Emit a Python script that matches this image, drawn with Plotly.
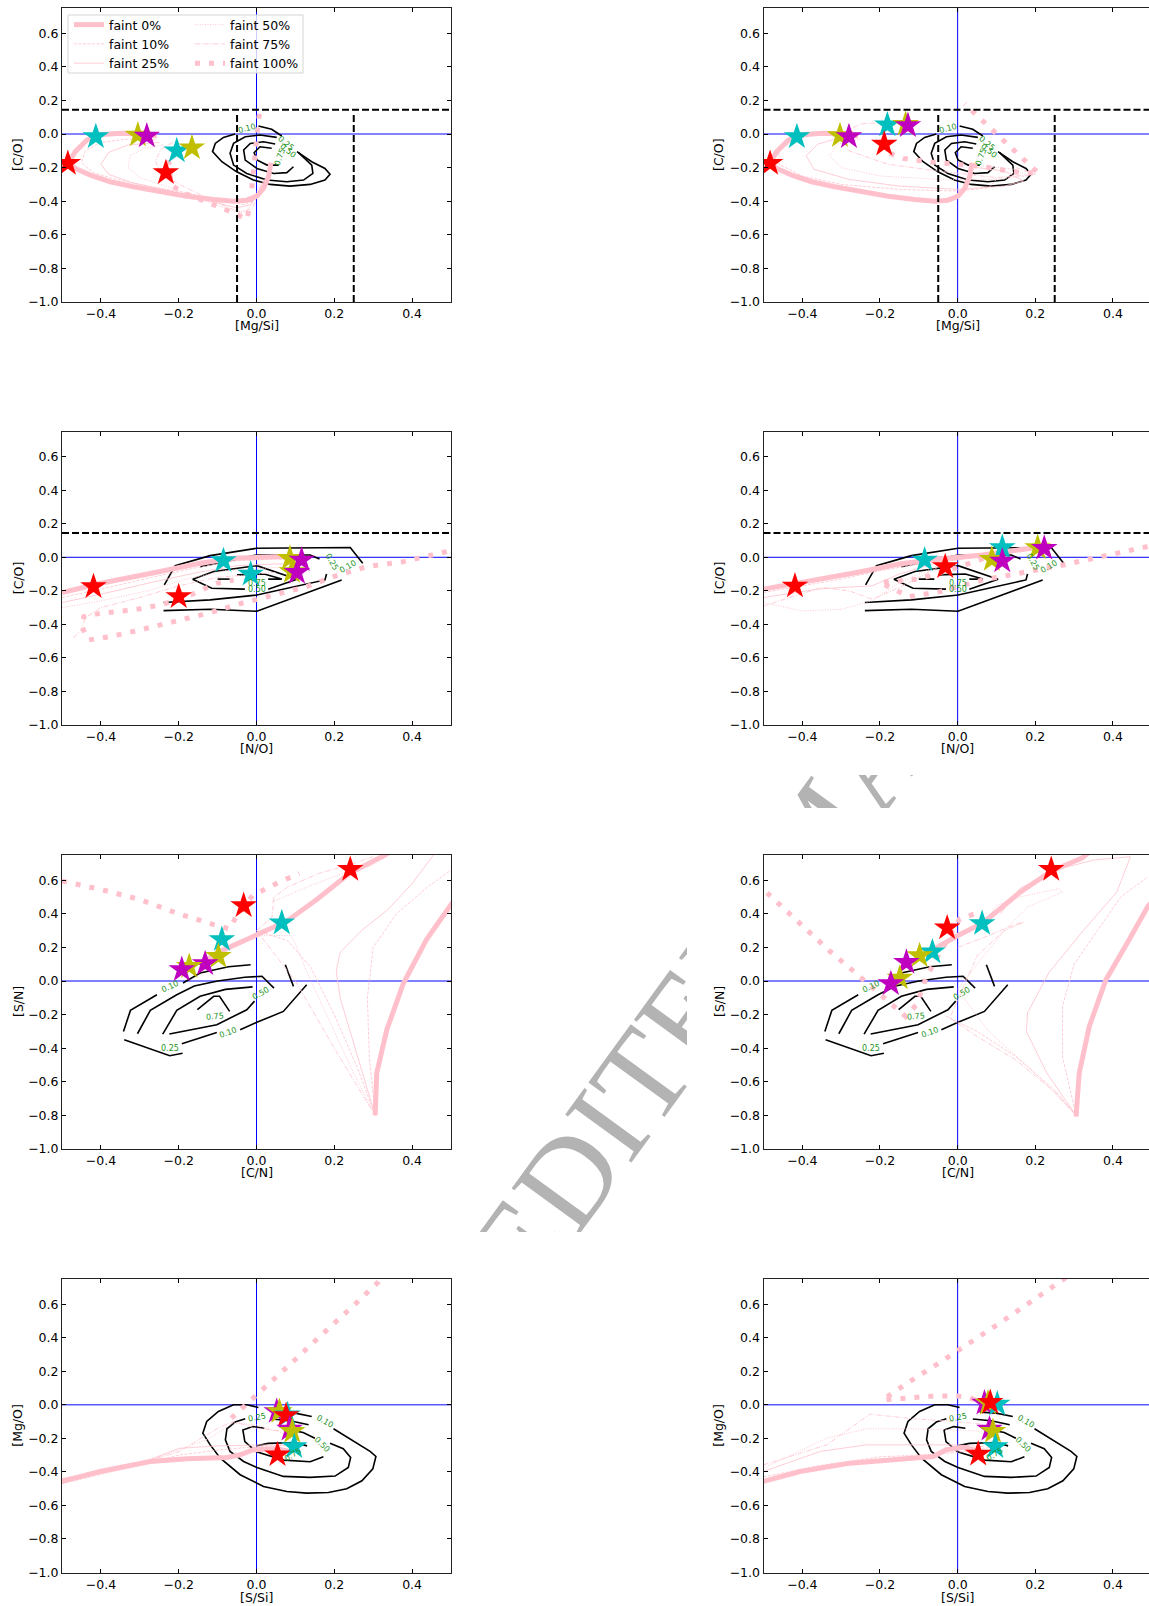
import plotly.graph_objects as go

W, H = 1149, 1606

# ---------------- axis ticks / titles ----------------
X_TICKS = [-0.4, -0.2, 0.0, 0.2, 0.4]
Y_TICKS = [-1.0, -0.8, -0.6, -0.4, -0.2, 0.0, 0.2, 0.4, 0.6]
X_TITLES = ["[Mg/Si]", "[N/O]", "[C/N]", "[S/Si]"]
Y_TITLES = ["[C/O]", "[C/O]", "[S/N]", "[Mg/O]"]
FAINT_LABELS = ["faint 0%", "faint 10%", "faint 25%", "faint 50%", "faint 75%", "faint 100%"]

# reference limits (dashed black lines)
CO_LIMIT = 0.145
MGSI_LIMITS = [-0.05, 0.25]
MGSI_LIMIT_TOP = 0.115

N = (None, None)

# ---------------- panel 1 : [Mg/Si] vs [C/O] ----------------
p1_f0 = [(-0.256, -0.012), (-0.299, 0.0), (-0.35, 0.004), (-0.402, -0.004), (-0.436, -0.036), (-0.466, -0.105),
         (-0.483, -0.171), (-0.466, -0.205), (-0.427, -0.245), (-0.376, -0.284), (-0.316, -0.314), (-0.247, -0.344),
         (-0.179, -0.370), (-0.11, -0.39), (-0.059, -0.40), (-0.025, -0.394), (0.001, -0.370), (0.018, -0.324),
         (0.031, -0.254), (0.037, -0.171)]
p1_f10 = [(-0.26, -0.035), (-0.33, -0.03), (-0.40, -0.05), (-0.44, -0.10), (-0.45, -0.17), (-0.42, -0.23),
          (-0.36, -0.27), (-0.28, -0.31), (-0.18, -0.35), (-0.09, -0.40), (-0.03, -0.42), (0.0, -0.38),
          (0.02, -0.31), (0.03, -0.24)]
p1_f25 = [(-0.25, -0.05), (-0.33, -0.065), (-0.38, -0.11), (-0.40, -0.18), (-0.38, -0.24), (-0.32, -0.29),
          (-0.22, -0.34), (-0.12, -0.40), (-0.05, -0.44), (-0.015, -0.42), (0.005, -0.35), (0.02, -0.27)]
p1_f50 = [(-0.24, -0.065), (-0.29, -0.085), (-0.325, -0.13), (-0.33, -0.20), (-0.30, -0.26), (-0.22, -0.32),
          (-0.13, -0.40), (-0.06, -0.46), (-0.025, -0.46), (-0.005, -0.38), (0.01, -0.29)]
p1_f75 = [(-0.215, -0.05), (-0.245, -0.09), (-0.26, -0.16), (-0.245, -0.24), (-0.19, -0.31), (-0.11, -0.40),
          (-0.04, -0.47), (-0.01, -0.44), (0.005, -0.35), (0.015, -0.28)]
p1_f100 = [(-0.226, -0.155), (-0.219, -0.304), (-0.188, -0.35), (-0.136, -0.394), (-0.093, -0.437),
           (-0.052, -0.477), (-0.025, -0.509), (-0.016, -0.414), (-0.01, -0.254), (-0.003, -0.076),
           (0.005, 0.083), (0.012, 0.173)]
p1_star_x = [-0.413, -0.305, -0.282, -0.485, -0.205, -0.166, -0.233]
p1_star_y = [-0.016, -0.006, -0.012, -0.175, -0.10, -0.082, -0.23]
p1_star_c = ["c", "y", "m", "r", "c", "y", "r"]

# ---------------- panel 2 ----------------
p2_f0 = p1_f0
p2_f10 = [(-0.35, 0.0), (-0.42, -0.03), (-0.46, -0.10), (-0.46, -0.18), (-0.40, -0.25), (-0.30, -0.30),
          (-0.15, -0.33), (0.0, -0.34), (0.08, -0.32), (0.10, -0.27)]
p2_f25 = [(-0.30, -0.02), (-0.36, -0.06), (-0.39, -0.13), (-0.37, -0.21), (-0.28, -0.27), (-0.15, -0.31),
          (0.0, -0.33), (0.12, -0.31), (0.17, -0.28), (0.12, -0.22), (0.05, -0.20)]
p2_f50 = [(-0.25, -0.03), (-0.31, -0.06), (-0.33, -0.13), (-0.30, -0.20), (-0.20, -0.25), (-0.05, -0.27),
          (0.10, -0.27), (0.18, -0.25), (0.15, -0.21), (0.06, -0.19)]
p2_f75 = [(-0.12, 0.08), (-0.25, 0.06), (-0.30, 0.0), (-0.28, -0.10), (-0.18, -0.18), (-0.05, -0.22),
          (0.10, -0.26), (0.20, -0.24), (0.15, -0.20)]
p2_f100 = [(-0.175, -0.115), (-0.14, -0.145), (-0.076, -0.165), (-0.003, -0.179), (0.069, -0.195),
           (0.142, -0.225), (0.209, -0.235), (0.181, -0.175), (0.127, -0.06), (0.072, 0.06), (0.018, 0.179)]
p2_star_x = [-0.414, -0.303, -0.28, -0.483, -0.181, -0.134, -0.128, -0.189]
p2_star_y = [-0.016, -0.01, -0.016, -0.175, 0.054, 0.058, 0.05, -0.06]
p2_star_c = ["c", "y", "m", "r", "c", "y", "m", "r"]

# ---------------- panel 3 : [N/O] vs [C/O] ----------------
p3_f0 = [(-0.5, -0.21), (-0.40, -0.155), (-0.27, -0.095), (-0.145, -0.036), (-0.06, -0.006), (0.0, 0.002),
         (0.07, 0.004), (0.10, 0.0)]
p3_f10 = [(-0.5, -0.24), (-0.40, -0.19), (-0.27, -0.12), (-0.15, -0.06), (-0.05, -0.02), (0.05, -0.01), (0.12, -0.02)]
p3_f25 = [(-0.5, -0.27), (-0.40, -0.22), (-0.27, -0.15), (-0.15, -0.09), (-0.05, -0.05), (0.05, -0.04), (0.12, -0.04)]
p3_f50 = [(-0.5, -0.30), (-0.40, -0.26), (-0.28, -0.20), (-0.18, -0.13), (-0.08, -0.08), (0.05, -0.06), (0.12, -0.06)]
p3_f75 = [(-0.47, -0.48), (-0.45, -0.43), (-0.44, -0.36), (-0.40, -0.30), (-0.30, -0.24), (-0.20, -0.17),
          (-0.10, -0.12), (0.05, -0.09)]
p3_f100 = [(0.489, 0.034), (0.378, -0.026), (0.283, -0.056), (0.198, -0.115), (0.129, -0.175), (0.057, -0.215),
           (-0.038, -0.274), (-0.119, -0.33), (-0.192, -0.374), (-0.299, -0.433), (-0.376, -0.473),
           (-0.432, -0.493), (-0.449, -0.414), (-0.444, -0.354), (-0.402, -0.334), (-0.316, -0.314),
           (-0.247, -0.284), (-0.179, -0.235), (-0.102, -0.155), (-0.059, -0.135)]
p3_star_x = [-0.419, -0.2, -0.085, -0.015, 0.086, 0.116, 0.091, 0.104]
p3_star_y = [-0.175, -0.235, -0.02, -0.10, -0.006, -0.016, -0.085, -0.09]
p3_star_c = ["r", "r", "c", "c", "y", "m", "y", "m"]

# ---------------- panel 4 ----------------
p4_f0 = [(-0.5, -0.19), (-0.40, -0.15), (-0.27, -0.095), (-0.15, -0.04), (-0.05, -0.01), (0.05, 0.01),
         (0.12, 0.03), (0.21, 0.06)]
p4_f10 = [(-0.5, -0.21), (-0.40, -0.17), (-0.30, -0.13), (-0.20, -0.08), (-0.10, -0.04), (0.0, -0.01), (0.1, 0.01)]
p4_f25 = [(-0.5, -0.24), (-0.42, -0.21), (-0.36, -0.19), (-0.30, -0.18), (-0.22, -0.17), (-0.15, -0.10),
          (-0.05, -0.03), (0.05, 0.0)]
p4_f50 = [(-0.5, -0.27), (-0.40, -0.32), (-0.30, -0.31), (-0.22, -0.26), (-0.15, -0.15), (-0.05, -0.05)]
p4_f75 = [(-0.5, -0.29), (-0.42, -0.23), (-0.35, -0.18), (-0.28, -0.20), (-0.22, -0.25), (-0.15, -0.18),
          (-0.05, -0.06)]
p4_f100 = [(0.489, 0.064), (0.373, 0.004), (0.271, -0.046), (0.159, -0.095), (0.065, -0.135), (-0.046, -0.205),
           (-0.125, -0.235), (-0.20, -0.15), (-0.10, -0.13), (0.0, -0.06), (0.10, 0.02), (0.20, 0.06)]
p4_star_x = [-0.419, -0.085, -0.032, 0.115, 0.088, 0.115, 0.206, 0.223]
p4_star_y = [-0.171, -0.016, -0.056, 0.058, -0.012, -0.022, 0.058, 0.054]
p4_star_c = ["r", "c", "r", "c", "y", "m", "y", "m"]

# ---------------- panel 5 : [C/N] vs [S/N] ----------------
p5_f0 = [(0.305, -0.80), (0.309, -0.549), (0.335, -0.29), (0.378, -0.012), (0.437, 0.247), (0.5, 0.465),
         (0.52, 0.52), N, (0.345, 0.77), (0.326, 0.744), (0.241, 0.644), (0.155, 0.485), (0.078, 0.356),
         (0.001, 0.276), (-0.102, 0.167), (-0.13, 0.12)]
p5_f10 = [(0.0, 0.30), (0.08, 0.24), (0.14, 0.08), (0.20, -0.20), (0.26, -0.52), (0.305, -0.80), (0.29, -0.45),
          (0.285, -0.10), (0.30, 0.20), (0.36, 0.40), (0.44, 0.56), (0.50, 0.66)]
p5_f25 = [(0.305, -0.80), (0.26, -0.45), (0.215, -0.10), (0.205, 0.06), (0.215, 0.17), (0.27, 0.30),
          (0.34, 0.43), (0.40, 0.58), (0.455, 0.75)]
p5_f50 = [(0.0, 0.27), (0.09, 0.27), (0.10, 0.22), (0.13, 0.05), (0.19, -0.25), (0.25, -0.55), (0.305, -0.80),
          N, (0.04, 0.47), (0.12, 0.55), (0.22, 0.64), (0.30, 0.69), (0.32, 0.74)]
p5_f75 = [(0.0, 0.30), (0.04, 0.38), (0.045, 0.50), (0.08, 0.56), (0.16, 0.64), (0.25, 0.70), (0.30, 0.74),
          N, (0.0, 0.30), (0.10, 0.0), (0.20, -0.40), (0.305, -0.80)]
p5_f100 = [(-0.5, 0.595), (-0.40, 0.545), (-0.30, 0.485), (-0.20, 0.40), (-0.11, 0.336), (-0.07, 0.31),
           (-0.055, 0.37), (-0.01, 0.51), (0.06, 0.59), (0.11, 0.64)]
p5_star_x = [0.241, -0.033, 0.065, -0.089, -0.098, -0.132, -0.173, -0.192]
p5_star_y = [0.664, 0.449, 0.346, 0.247, 0.147, 0.103, 0.087, 0.068]
p5_star_c = ["r", "r", "c", "c", "y", "m", "y", "m"]

# ---------------- panel 6 ----------------
p6_f0 = [(0.305, -0.807), (0.313, -0.549), (0.339, -0.27), (0.382, 0.008), (0.442, 0.247), (0.49, 0.445),
         (0.52, 0.52), N, (0.34, 0.77), (0.322, 0.734), (0.241, 0.654), (0.159, 0.525), (0.065, 0.346),
         (-0.003, 0.266), (-0.063, 0.187)]
p6_f10 = [(0.305, -0.80), (0.27, -0.45), (0.27, -0.15), (0.30, 0.10), (0.36, 0.30), (0.42, 0.50), (0.49, 0.62),
          N, (-0.03, -0.21), (0.05, -0.30), (0.15, -0.45), (0.25, -0.65), (0.305, -0.80)]
p6_f25 = [(0.305, -0.80), (0.23, -0.55), (0.177, -0.30), (0.18, -0.19), (0.235, 0.05), (0.32, 0.29),
          (0.41, 0.53), (0.445, 0.74), (0.35, 0.72), (0.25, 0.66), (0.16, 0.55), (0.11, 0.40)]
p6_f50 = [(0.07, 0.35), (0.10, 0.45), (0.16, 0.50), (0.26, 0.55), (0.27, 0.53), (0.18, 0.44), (0.12, 0.30),
          (0.05, 0.10), (0.0, -0.05), (0.08, -0.30), (0.20, -0.55), (0.305, -0.80)]
p6_f75 = [(0.0, 0.20), (0.08, 0.27), (0.14, 0.33), (0.17, 0.35), (0.12, 0.30), (0.05, 0.15), (-0.02, -0.22),
          (0.05, -0.33), (0.15, -0.47), (0.25, -0.66), (0.305, -0.80)]
p6_f100 = [(-0.491, 0.525), (-0.436, 0.406), (-0.38, 0.29), (-0.329, 0.177), (-0.273, 0.068), (-0.243, 0.008),
           (-0.213, -0.052), (-0.188, -0.107), (-0.158, -0.161), (-0.134, -0.211), (-0.106, -0.141),
           (-0.08, 0.028), (-0.046, 0.167), (0.005, 0.37), (0.039, 0.396), (0.065, 0.41)]
p6_star_x = [0.241, -0.027, 0.063, -0.065, -0.098, -0.132, -0.149, -0.172]
p6_star_y = [0.664, 0.316, 0.342, 0.173, 0.151, 0.111, 0.018, -0.016]
p6_star_c = ["r", "r", "c", "c", "y", "m", "y", "m"]

# ---------------- panel 7 : [S/Si] vs [Mg/O] ----------------
p7_f0 = [(-0.5, -0.457), (-0.402, -0.398), (-0.273, -0.338), (-0.179, -0.322), (-0.076, -0.314),
         (-0.042, -0.298), (-0.008, -0.268), (0.052, -0.262), (0.086, -0.278)]
p7_f10 = [(-0.5, -0.47), (-0.3, -0.36), (-0.2, -0.30), (-0.1, -0.27), (0.0, -0.25), (0.08, -0.24)]
p7_f25 = [(-0.5, -0.44), (-0.3, -0.35), (-0.2, -0.26), (-0.1, -0.245), (0.0, -0.24), (0.08, -0.24)]
p7_f50 = [(-0.5, -0.45), (-0.3, -0.35), (-0.2, -0.27), (-0.12, -0.20), (-0.06, -0.11), (0.0, -0.12), (0.08, -0.18)]
p7_f75 = [(-0.5, -0.46), (-0.3, -0.35), (-0.2, -0.28), (-0.1, -0.14), (-0.06, -0.10), (0.0, -0.14), (0.08, -0.16)]
p7_f100 = [(-0.065, -0.08), (-0.038, -0.024), (-0.012, 0.036), (0.044, 0.149), (0.097, 0.264), (0.151, 0.382),
           (0.206, 0.497), (0.259, 0.612), (0.313, 0.732), (0.32, 0.76)]
p7_star_x = [0.052, 0.059, 0.08, 0.076, 0.085, 0.092, 0.097, 0.054]
p7_star_y = [-0.04, -0.04, -0.06, -0.064, -0.145, -0.159, -0.249, -0.298]
p7_star_c = ["m", "y", "c", "r", "m", "y", "c", "r"]

# ---------------- panel 8 ----------------
p8_f0 = [(-0.5, -0.457), (-0.406, -0.398), (-0.277, -0.348), (-0.183, -0.328), (-0.063, -0.308),
         (-0.029, -0.268), (0.014, -0.254), (0.057, -0.278)]
p8_f10 = [(-0.5, -0.43), (-0.35, -0.36), (-0.2, -0.31), (-0.05, -0.295), (0.05, -0.27), (0.08, -0.255)]
p8_f25 = [(-0.5, -0.398), (-0.354, -0.278), (-0.235, -0.239), (-0.115, -0.239), (-0.012, -0.239), (0.065, -0.249)]
p8_f50 = [(-0.5, -0.378), (-0.337, -0.199), (-0.235, -0.143), (-0.132, -0.143), (-0.012, -0.149), (0.065, -0.159)]
p8_f75 = [(-0.5, -0.358), (-0.337, -0.239), (-0.226, -0.056), (-0.115, -0.083), (-0.012, -0.099), (0.065, -0.115)]
p8_f100 = [(0.044, 0.03), (0.027, 0.046), (-0.008, 0.054), (-0.08, 0.05), (-0.158, 0.034), (-0.193, 0.03),
           (-0.134, 0.123), (-0.042, 0.258), (0.112, 0.493), (0.266, 0.732), (0.28, 0.76)]
p8_star_x = [0.069, 0.078, 0.102, 0.084, 0.082, 0.091, 0.097, 0.053]
p8_star_y = [0.01, 0.01, 0.004, 0.014, -0.145, -0.159, -0.249, -0.294]
p8_star_c = ["m", "y", "c", "r", "m", "y", "c", "r"]

# ---------------- observed density contours (black, labelled) ----------------
cont_mgsi = [
    [(0.005, 0.048), (0.039, 0.028), (0.065, -0.012)],
    [(0.104, -0.105), (0.142, -0.165), (0.176, -0.205), (0.189, -0.239), (0.176, -0.274), (0.138, -0.30),
     (0.086, -0.31), (0.035, -0.30), (-0.008, -0.274), (-0.051, -0.225), (-0.089, -0.165), (-0.113, -0.105),
     (-0.106, -0.056), (-0.085, -0.02), (-0.055, 0.0)],
    [(0.108, -0.111), (0.142, -0.185), (0.145, -0.235), (0.121, -0.274), (0.078, -0.284), (0.027, -0.274),
     (-0.025, -0.235), (-0.059, -0.185), (-0.068, -0.115), (-0.059, -0.056), (-0.029, -0.016), (0.009, -0.006),
     (0.052, -0.02)],
    [(0.048, -0.06), (0.018, -0.046), (-0.016, -0.056), (-0.033, -0.095), (-0.029, -0.155), (0.001, -0.205),
     (0.044, -0.235), (0.078, -0.23), (0.095, -0.195)],
    [(0.039, -0.085), (0.009, -0.076), (-0.006, -0.111), (0.001, -0.155), (0.027, -0.185), (0.057, -0.185)],
]
lab_mgsi = [("0.10", -0.025, 0.034, -15), ("0.25", 0.076, -0.056, 40), ("0.50", 0.08, -0.10, 40),
            ("0.75", 0.061, -0.135, -70)]

cont_no = [
    [(-0.237, -0.165), (-0.209, -0.05), (-0.119, 0.01), (0.001, 0.054), (0.241, 0.058), (0.273, -0.036)],
    [(-0.239, -0.318), (-0.119, -0.31), (0.001, -0.322), (0.121, -0.219), (0.219, -0.135)],
    [(-0.145, -0.056), (0.001, 0.014), (0.138, 0.014), (0.162, -0.01)],
    [(-0.239, -0.27), (-0.119, -0.254), (0.001, -0.225), (0.121, -0.165), (0.176, -0.135), (0.18, -0.10)],
    [(0.03, -0.19), (0.104, -0.131), (0.001, -0.05), (-0.11, -0.085), (-0.164, -0.131), (-0.115, -0.185),
     (-0.03, -0.19)],
    [(-0.10, -0.13), (-0.06, -0.13)],
    [(0.03, -0.13), (0.065, -0.13), (0.02, -0.10), (-0.05, -0.105)],
]
lab_no = [("0.25", 0.193, -0.026, 60), ("0.10", 0.236, -0.056, -30), ("0.75", 0.001, -0.155, 0),
          ("0.50", 0.001, -0.19, 0)]

cont_cn = [
    [(-0.342, -0.30), (-0.324, -0.175), (-0.256, -0.082)],
    [(-0.189, -0.012), (-0.145, 0.048), (-0.072, 0.085), (-0.015, 0.097)],
    [(0.074, 0.097), (0.095, -0.032)],
    [(0.129, -0.022), (0.069, -0.181), (0.001, -0.246), (-0.042, -0.29)],
    [(-0.102, -0.306), (-0.192, -0.374)],
    [(-0.34, -0.35), (-0.223, -0.445), (-0.19, -0.43)],
    [(-0.306, -0.314), (-0.273, -0.175), (-0.205, -0.082), (-0.16, -0.03), (-0.10, 0.0), (-0.03, 0.022),
     (0.014, 0.028), (0.045, -0.042)],
    [(-0.241, -0.316), (-0.205, -0.175), (-0.145, -0.091), (-0.08, -0.05), (-0.01, -0.035)],
    [(-0.224, -0.316), (-0.102, -0.26), (-0.025, -0.171), (-0.005, -0.12)],
    [(-0.152, -0.171), (-0.110, -0.091), (-0.095, -0.091), (-0.069, -0.181)],
]
lab_cn = [("0.10", -0.222, -0.032, -25), ("0.50", 0.011, -0.076, -30), ("0.75", -0.106, -0.211, -5),
          ("0.10", -0.072, -0.306, -20), ("0.25", -0.223, -0.404, 0)]

cont_ssi = [
    [(0.198, -0.143), (0.249, -0.219), (0.292, -0.278), (0.307, -0.308), (0.299, -0.382), (0.271, -0.453),
     (0.232, -0.501), (0.185, -0.523), (0.129, -0.527), (0.078, -0.517), (0.018, -0.487), (-0.042, -0.417),
     (-0.093, -0.318), (-0.119, -0.239), (-0.138, -0.169), (-0.128, -0.099), (-0.098, -0.04), (-0.059, 0.0),
     (-0.025, 0.0), (0.005, -0.016)],
    [(0.057, -0.044), (0.099, -0.05), (0.142, -0.07)],
    [(-0.029, -0.083), (-0.055, -0.103), (-0.076, -0.143), (-0.080, -0.209), (-0.068, -0.278), (-0.033, -0.338),
     (0.001, -0.374), (0.069, -0.427), (0.138, -0.433), (0.202, -0.425), (0.236, -0.374), (0.242, -0.314),
     (0.223, -0.262), (0.189, -0.229)],
    [(0.039, -0.085), (0.086, -0.095), (0.134, -0.119)],
    [(0.02, -0.14), (-0.01, -0.13), (-0.035, -0.15), (-0.03, -0.22), (0.0, -0.28), (0.07, -0.33), (0.138, -0.34),
     (0.172, -0.31)],
    [(0.075, -0.145), (0.12, -0.165), (0.15, -0.20)],
    [(0.0, -0.245), (0.03, -0.23), (0.10, -0.225), (0.13, -0.245)],
]
lab_ssi = [("0.25", 0.001, -0.074, -10), ("0.10", 0.176, -0.099, 30), ("0.50", 0.168, -0.239, 45),
           ("0.75", 0.095, -0.298, -30)]

WATERMARK = "UNEDITED MANUSCRIPT"

# ---------------- styles ----------------
PINK = "#FFC0CB"
FAINT_STYLE = [dict(width=5, dash="solid"), dict(width=0.8, dash="3px,1.5px"), dict(width=0.8, dash="solid"),
               dict(width=0.9, dash="1px,1.5px"), dict(width=0.8, dash="5px,1.5px,1px,1.5px"),
               dict(width=5, dash="5px,9px")]
STAR_COL = {"r": "#FF0000", "c": "#00BFBF", "y": "#BFBF00", "m": "#BF00BF"}
GREEN = "#1f951f"
FS = 12.5

COL_PX = [(62, 451), (763.5, 1149)]
ROW_PX = [(8, 302), (431.5, 725), (855, 1149), (1279, 1572.5)]
X_RANGE = [[-0.5, 0.5], [-0.5, 0.4928]]

panels = [
    ([p1_f0, p1_f10, p1_f25, p1_f50, p1_f75, p1_f100], cont_mgsi, lab_mgsi, p1_star_x, p1_star_y, p1_star_c),
    ([p2_f0, p2_f10, p2_f25, p2_f50, p2_f75, p2_f100], cont_mgsi, lab_mgsi, p2_star_x, p2_star_y, p2_star_c),
    ([p3_f0, p3_f10, p3_f25, p3_f50, p3_f75, p3_f100], cont_no, lab_no, p3_star_x, p3_star_y, p3_star_c),
    ([p4_f0, p4_f10, p4_f25, p4_f50, p4_f75, p4_f100], cont_no, lab_no, p4_star_x, p4_star_y, p4_star_c),
    ([p5_f0, p5_f10, p5_f25, p5_f50, p5_f75, p5_f100], cont_cn, lab_cn, p5_star_x, p5_star_y, p5_star_c),
    ([p6_f0, p6_f10, p6_f25, p6_f50, p6_f75, p6_f100], cont_cn, lab_cn, p6_star_x, p6_star_y, p6_star_c),
    ([p7_f0, p7_f10, p7_f25, p7_f50, p7_f75, p7_f100], cont_ssi, lab_ssi, p7_star_x, p7_star_y, p7_star_c),
    ([p8_f0, p8_f10, p8_f25, p8_f50, p8_f75, p8_f100], cont_ssi, lab_ssi, p8_star_x, p8_star_y, p8_star_c),
]


def axname(k):
    return ("x" if k == 1 else f"x{k}"), ("y" if k == 1 else f"y{k}")


fig = go.Figure()
layout = dict(width=W, height=H, margin=dict(l=0, r=0, t=0, b=0), paper_bgcolor="white",
              plot_bgcolor="white", template="none", font=dict(family="DejaVu Sans", size=FS, color="black"),
              showlegend=True)
shapes, annotations = [], []

TICKFONT = dict(family="DejaVu Sans", size=FS, color="black")

for p, (curves, cont, labs, sx, sy, sc) in enumerate(panels):
    row, col = divmod(p, 2)
    k = p + 1
    xa, ya = axname(k)
    x0, x1 = COL_PX[col]
    y0, y1 = ROW_PX[row]
    layout[f"xaxis{k}"] = dict(domain=[x0 / W, x1 / W], range=X_RANGE[col], anchor=ya, tickvals=X_TICKS,
                               tickformat=".1f", ticks="inside", ticklen=4, tickwidth=1, tickcolor="black",
                               showline=True, linecolor="#222", linewidth=1, mirror="ticks", showgrid=False,
                               zeroline=False, tickfont=TICKFONT, automargin=False, fixedrange=True)
    layout[f"yaxis{k}"] = dict(domain=[1 - y1 / H, 1 - y0 / H], range=[-1.0, 0.75], anchor=xa, tickvals=Y_TICKS,
                               tickformat=".1f", ticks="inside", ticklen=4, tickwidth=1, tickcolor="black",
                               showline=True, linecolor="#222", linewidth=1,
                               mirror="ticks" if col == 0 else False, showgrid=False, zeroline=False,
                               tickfont=TICKFONT, automargin=False, fixedrange=True)

    # zero lines
    hcol = "rgba(0,0,255,0.65)" if row in (0, 3) else "#0000FF"
    hw = 1.6 if row in (0, 3) else 1.0
    shapes.append(dict(type="line", xref=xa, yref=f"{ya} domain", x0=0, x1=0, y0=0, y1=1,
                       line=dict(color="#0000FF", width=1), layer="below"))
    shapes.append(dict(type="line", xref=f"{xa} domain", yref=ya, x0=0, x1=1, y0=0, y1=0,
                       line=dict(color=hcol, width=hw), layer="below"))
    # dashed reference limits
    if row in (0, 1):
        shapes.append(dict(type="line", xref=f"{xa} domain", yref=ya, x0=0, x1=1, y0=CO_LIMIT, y1=CO_LIMIT,
                           line=dict(color="black", width=2, dash="7px,3px"), layer="above"))
    if row == 0:
        for xv in MGSI_LIMITS:
            shapes.append(dict(type="line", xref=xa, yref=ya, x0=xv, x1=xv, y0=-1.0, y1=MGSI_LIMIT_TOP,
                               line=dict(color="black", width=2, dash="7px,3px"), layer="above"))

    # contours
    cx, cy = [], []
    for line in cont:
        cx += [pt[0] for pt in line] + [None]
        cy += [pt[1] for pt in line] + [None]
    fig.add_trace(go.Scatter(x=cx, y=cy, mode="lines", line=dict(color="black", width=1.6), xaxis=xa, yaxis=ya,
                             showlegend=False, hoverinfo="skip"))
    for (t, lx, ly, ang) in labs:
        annotations.append(dict(text=t, x=lx, y=ly, xref=xa, yref=ya, showarrow=False, textangle=ang,
                                font=dict(size=8, color=GREEN, family="DejaVu Sans")))

    # model tracks
    for j, curve in enumerate(curves):
        st = FAINT_STYLE[j]
        fig.add_trace(go.Scatter(x=[pt[0] for pt in curve], y=[pt[1] for pt in curve], mode="lines",
                                 line=dict(color=PINK, width=st["width"], dash=st["dash"]), xaxis=xa, yaxis=ya,
                                 name=FAINT_LABELS[j], showlegend=(p == 0), connectgaps=False,
                                 legend="legend" if j < 3 else "legend2", hoverinfo="skip"))
    # stars
    fig.add_trace(go.Scatter(x=sx, y=sy, mode="markers", xaxis=xa, yaxis=ya, showlegend=False,
                             marker=dict(symbol="star", size=20, color=[STAR_COL[c] for c in sc],
                                         line=dict(width=0)), hoverinfo="skip"))

    # axis titles
    cxp = (x0 + (x1 if col == 0 else 1152)) / 2
    dy = 24.5 if row == 3 else 23
    annotations.append(dict(text=X_TITLES[row], x=cxp / W, y=1 - (y1 + dy) / H, xref="paper", yref="paper",
                            showarrow=False, font=dict(size=FS), xanchor="center", yanchor="middle"))
    annotations.append(dict(text=Y_TITLES[row], x=(18 if col == 0 else 719) / W, y=1 - (y0 + y1) / 2 / H,
                            xref="paper", yref="paper", showarrow=False, font=dict(size=FS), textangle=-90,
                            xanchor="center", yanchor="middle"))

# legends (two columns) + frame
layout["legend"] = dict(x=69 / W, y=1 - 10 / H, xanchor="left", yanchor="top", bgcolor="rgba(0,0,0,0)",
                        borderwidth=0, font=dict(size=FS), itemwidth=30, tracegroupgap=0)
layout["legend2"] = dict(x=190 / W, y=1 - 10 / H, xanchor="left", yanchor="top", bgcolor="rgba(0,0,0,0)",
                         borderwidth=0, font=dict(size=FS), itemwidth=30, tracegroupgap=0)
shapes.append(dict(type="rect", xref="paper", yref="paper", x0=68 / W, x1=303 / W, y0=1 - 73 / H, y1=1 - 15 / H,
                   line=dict(color="#d5d5d5", width=1), fillcolor="rgba(255,255,255,0.8)", layer="above"))

# watermark, visible only in the gaps between the panel tiles
GAPS = [((503, 687), (775, 1232)), ((0, 503), (1195, 1232)), ((687, 1149), (775, 808))]
wc = (811, 820)
for g, ((gx0, gx1), (gy0, gy1)) in enumerate(GAPS):
    k = 9 + g
    layout[f"xaxis{k}"] = dict(domain=[gx0 / W, gx1 / W], range=[gx0, gx1], anchor=f"y{k}", visible=False,
                               fixedrange=True)
    layout[f"yaxis{k}"] = dict(domain=[1 - gy1 / H, 1 - gy0 / H], range=[gy1, gy0], anchor=f"x{k}",
                               visible=False, fixedrange=True)
    fig.add_trace(go.Scatter(x=[None], y=[None], xaxis=f"x{k}", yaxis=f"y{k}", showlegend=False,
                             hoverinfo="skip"))
    shapes.append(dict(type="line", xref=f"x{k}", yref=f"y{k}", x0=wc[0] - 176, y0=wc[1] + 243,
                       x1=wc[0] + 176, y1=wc[1] - 243, line=dict(color="rgba(0,0,0,0)", width=1), layer="below",
                       label=dict(text=WATERMARK, textangle=-54, textposition="middle", yanchor="middle",
                                  xanchor="center",
                                  font=dict(size=125, color="#b3b3b3", family="Liberation Serif"))))

layout["xaxis"] = layout.pop("xaxis1")
layout["yaxis"] = layout.pop("yaxis1")
layout["shapes"] = shapes
layout["annotations"] = annotations
fig.update_layout(**layout)
fig.write_html("out.html")
